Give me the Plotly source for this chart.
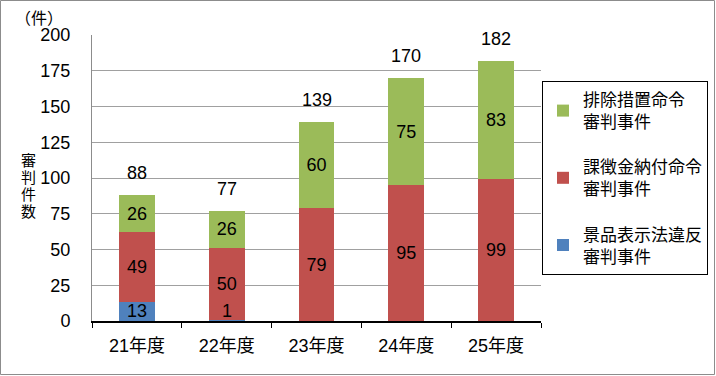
import plotly.graph_objects as go

categories = ["21年度", "22年度", "23年度", "24年度", "25年度"]
keihin = [13, 1, 0, 0, 0]          # 景品表示法違反審判事件
kachokin = [49, 50, 79, 95, 99]    # 課徴金納付命令審判事件
haijo = [26, 26, 60, 75, 83]       # 排除措置命令審判事件
totals = [88, 77, 139, 170, 182]
y_ticks = [0, 25, 50, 75, 100, 125, 150, 175, 200]

FONT = "Liberation Sans, Noto Sans CJK JP, sans-serif"
W, H = 716, 376
ML, MR, MT, MB = 92, 175, 35, 55

fig = go.Figure()
fig.add_trace(go.Bar(
    x=categories, y=keihin, name="景品表示法違反<br>審判事件",
    marker=dict(color="#4F81BD", line=dict(width=0)),
    legendgroup="a", legendrank=3,
))
fig.add_trace(go.Bar(
    x=categories, y=kachokin, name="課徴金納付命令<br>審判事件",
    marker=dict(color="#C0504D", line=dict(width=0)),
    text=[str(v) for v in kachokin], textposition="inside",
    insidetextanchor="middle", textangle=0, constraintext="none",
    textfont=dict(color="black", size=18, family=FONT),
    legendgroup="b", legendrank=2,
))
fig.add_trace(go.Bar(
    x=categories, y=haijo, name="排除措置命令<br>審判事件",
    marker=dict(color="#9BBB59", line=dict(width=0)),
    text=[str(v) for v in haijo], textposition="inside",
    insidetextanchor="middle", textangle=0, constraintext="none",
    textfont=dict(color="black", size=18, family=FONT),
    legendgroup="c", legendrank=1,
))

annotations = []
for c, v in zip(categories, keihin):
    if v > 0:
        annotations.append(dict(x=c, y=0, xref="x", yref="y", text=str(v),
                                showarrow=False, yanchor="bottom", yshift=-2,
                                font=dict(size=18, color="black", family=FONT)))
for c, t in zip(categories, totals):
    annotations.append(dict(x=c, y=t, xref="x", yref="y", text=str(t),
                            showarrow=False, yanchor="bottom", yshift=10,
                            font=dict(size=18, color="black", family=FONT)))
pw = W - ML - MR
ph = H - MT - MB
annotations.append(dict(x=-79 / pw, y=1 + 17 / ph, xref="paper", yref="paper",
                        text="（件）", showarrow=False, xanchor="left", yanchor="middle",
                        font=dict(size=16, color="black", family=FONT)))
for i, ch in enumerate("審判件数"):
    annotations.append(dict(x=-64 / pw, y=(321 - (160 + 17 * i)) / ph,
                            xref="paper", yref="paper", text=ch, showarrow=False,
                            xanchor="center", yanchor="middle",
                            font=dict(size=15, color="black", family=FONT)))

fig.update_layout(
    width=W, height=H,
    margin=dict(l=ML, r=MR, t=MT, b=MB, autoexpand=False),
    barmode="stack", bargap=0.6,
    plot_bgcolor="white", paper_bgcolor="white",
    font=dict(family=FONT, size=18, color="black"),
    showlegend=True,
    legend=dict(
        x=(708 - ML) / pw, xanchor="right",
        y=(321 - 81) / ph, yanchor="top",
        traceorder="grouped", tracegroupgap=20,
        bordercolor="black", borderwidth=1, bgcolor="white",
        font=dict(size=17, family=FONT, color="black"),
        itemwidth=30,
    ),
    annotations=annotations,
    shapes=[dict(type="rect", xref="paper", yref="paper",
                 x0=-(ML - 0.5) / pw, x1=1 + (MR - 1.5) / pw,
                 y0=-(MB - 1.5) / ph, y1=1 + (MT - 0.5) / ph,
                 line=dict(color="#8C8C8C", width=1))],
)
fig.update_xaxes(
    showline=True, linecolor="black", linewidth=1.5,
    ticks="outside", tickson="boundaries", ticklen=5, tickcolor="black",
    tickfont=dict(size=18, family=FONT), ticklabelstandoff=8,
    showgrid=False,
)
fig.update_yaxes(
    range=[0, 200], tickvals=y_ticks, ticktext=[str(v) for v in y_ticks],
    showline=True, linecolor="#8C8C8C", linewidth=1,
    showgrid=True, gridcolor="#A0A0A0", gridwidth=1,
    zeroline=False, ticks="", tickfont=dict(size=18, family=FONT),
    ticklabelstandoff=17,
)

fig.write_html(
    "out.html",
    config={"displayModeBar": False},
    post_script="document.body.style.margin='0';document.body.style.overflow='hidden';",
)
